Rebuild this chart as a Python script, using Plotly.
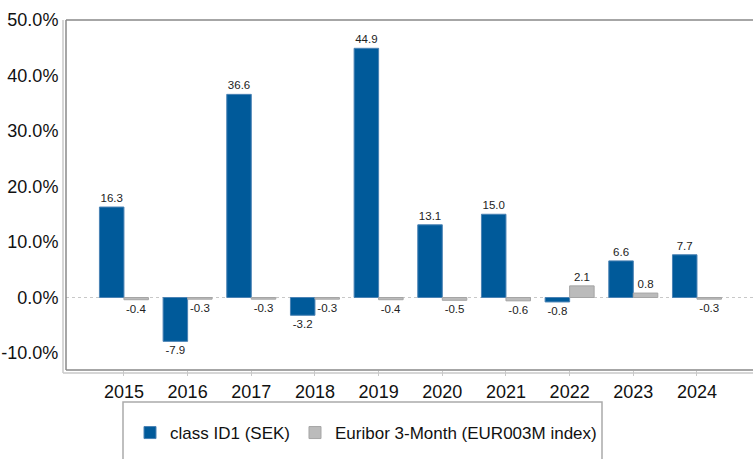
import plotly.graph_objects as go

years = ["2015", "2016", "2017", "2018", "2019", "2020", "2021", "2022", "2023", "2024"]
fund = [16.3, -7.9, 36.6, -3.2, 44.9, 13.1, 15.0, -0.8, 6.6, 7.7]
euribor = [-0.4, -0.3, -0.3, -0.3, -0.4, -0.5, -0.6, 2.1, 0.8, -0.3]
y_ticks = [-10, 0, 10, 20, 30, 40, 50]
y_tick_text = ["-10.0%", "0.0%", "10.0%", "20.0%", "30.0%", "40.0%", "50.0%"]

FONT = "Liberation Sans, Arial, sans-serif"
W, H = 753, 459
ML, MR, MT, MB = 66, 0, 20, 89
PW, PH = W - ML - MR, H - MT - MB

fig = go.Figure()
fig.add_trace(go.Bar(
    x=years, y=fund, name="class ID1 (SEK)",
    marker=dict(color="#005A9A", line=dict(color="#4A82B4", width=1)),
    text=[f"{v:.1f}" for v in fund], textposition="outside",
    textfont=dict(size=11.5, color="#222222", family=FONT),
    cliponaxis=False,
))
fig.add_trace(go.Bar(
    x=years, y=euribor, name="Euribor 3-Month (EUR003M index)",
    marker=dict(color="#BBBBBB", line=dict(color="#A5A5A5", width=1)),
    text=[f"{v:.1f}" for v in euribor], textposition="outside",
    textfont=dict(size=11.5, color="#222222", family=FONT),
    cliponaxis=False,
))

px = lambda p: p / PW   # pixel -> paper x fraction
py = lambda p: p / PH   # pixel -> paper y fraction

shapes = [
    # dotted zero line
    dict(type="line", xref="paper", yref="y", x0=0, x1=1, y0=0, y1=0,
         line=dict(color="#C8C8C8", width=1, dash="dot"), layer="below"),
    # frame: left, top, bottom
    dict(type="line", xref="paper", yref="paper", x0=0, x1=0, y0=0, y1=1,
         line=dict(color="#888888", width=1.5)),
    dict(type="line", xref="paper", yref="paper", x0=0, x1=1, y0=1, y1=1,
         line=dict(color="#888888", width=1.5)),
    dict(type="line", xref="paper", yref="paper", x0=0, x1=1, y0=0, y1=0,
         line=dict(color="#888888", width=1.5)),
    # outer light axis lines
    dict(type="line", xref="paper", yref="paper", x0=-px(3), x1=-px(3), y0=-py(3), y1=1,
         line=dict(color="#C8C8C8", width=1.5)),
    dict(type="line", xref="paper", yref="paper", x0=-px(3), x1=1, y0=-py(3), y1=-py(3),
         line=dict(color="#C8C8C8", width=1.5)),
    # legend box
    dict(type="rect", xref="paper", yref="paper",
         x0=px(123 - ML), x1=px(602 - ML), y0=-py(470 - MT - PH), y1=-py(402 - MT - PH),
         line=dict(color="#AAAAAA", width=1.5), fillcolor="rgba(0,0,0,0)"),
]

fig.update_layout(
    width=W, height=H,
    margin=dict(l=ML, r=MR, t=MT, b=MB, autoexpand=False),
    paper_bgcolor="white", plot_bgcolor="white",
    barmode="group", bargap=0.23, bargroupgap=0,
    font=dict(family=FONT, color="#111111"),
    showlegend=True,
    legend=dict(
        orientation="h", xref="container", yref="container",
        x=130 / W, xanchor="left", y=1 - 433 / H, yanchor="middle",
        bgcolor="rgba(0,0,0,0)", borderwidth=0,
        font=dict(size=17, family=FONT, color="#111111"),
    ),
    xaxis=dict(
        range=[-0.91, 9.88], showline=False,
        ticks="outside", ticklen=5, tickcolor="#C8C8C8", tickwidth=1,
        tickfont=dict(size=18, color="#111111"),
        showgrid=False, zeroline=False,
    ),
    yaxis=dict(
        range=[-13.06, 50], tickvals=y_ticks, ticktext=y_tick_text,
        showline=False, ticks="outside", ticklen=3, tickcolor="rgba(0,0,0,0)",
        tickfont=dict(size=18, color="#111111"),
        showgrid=False, zeroline=False,
    ),
    shapes=shapes,
)

fig.write_html(
    "out.html",
    config={"displayModeBar": False},
    post_script="document.body.style.margin='0';document.body.style.padding='0';",
)
